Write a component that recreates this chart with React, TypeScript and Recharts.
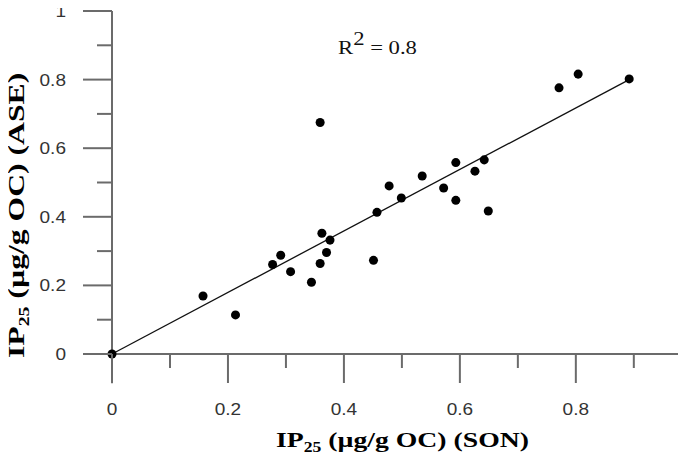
import { ScatterChart, Scatter, XAxis, YAxis, ReferenceLine } from "recharts";

// IP25 concentrations (µg/g OC) per station, SON vs ASE
const sonValues = [
  0, 0.157, 0.213, 0.277, 0.291, 0.308, 0.344, 0.359, 0.362, 0.359, 0.37, 0.376,
  0.451, 0.457, 0.478, 0.499, 0.535, 0.572, 0.593, 0.593, 0.626, 0.642, 0.649,
  0.771, 0.804, 0.892,
];
const aseValues = [
  0, 0.169, 0.114, 0.261, 0.288, 0.24, 0.209, 0.264, 0.352, 0.675, 0.296, 0.332,
  0.273, 0.413, 0.49, 0.455, 0.519, 0.484, 0.558, 0.448, 0.533, 0.566, 0.417,
  0.776, 0.816, 0.802,
];

// linear fit through the origin
const fitX = [0, 0.892];
const fitY = [0, 0.8];
const rSquared = "0.8";

const xTicks = [0, 0.1, 0.2, 0.3, 0.4, 0.5, 0.6, 0.7, 0.8, 0.9];
const yTicks = [0, 0.1, 0.2, 0.3, 0.4, 0.5, 0.6, 0.7, 0.8, 0.9, 1];

const points = sonValues.map((son, i) => ({ son, ase: aseValues[i] }));

const AXIS = "#6b6b6b";
const SANS = "'Liberation Sans', Arial, sans-serif";
const SERIF = "'Liberation Serif', 'Times New Roman', serif";

const isMajor = (v: number) => Math.abs(v * 5 - Math.round(v * 5)) < 1e-6;
const fmt = (v: number) => String(Math.round(v * 10) / 10);

function XTick({ x, y, payload }: any) {
  const major = isMajor(payload.value);
  return (
    <g>
      <line x1={x} x2={x} y1={y} y2={y + (major ? 29 : 14)} stroke={AXIS} strokeWidth={2} />
      {major && (
        <text
          transform={`translate(${x},${y + 61}) scale(1.12,1)`}
          textAnchor="middle"
          fontFamily={SANS}
          fontSize={17}
          fill="#333"
        >
          {fmt(payload.value)}
        </text>
      )}
    </g>
  );
}

function YTick({ x, y, payload }: any) {
  const major = isMajor(payload.value);
  return (
    <g>
      <line x1={x - (major ? 29 : 15)} x2={x} y1={y} y2={y} stroke={AXIS} strokeWidth={2} />
      {major && (
        <text
          transform={`translate(${x - 46},${y + 6}) scale(1.12,1)`}
          textAnchor="end"
          fontFamily={SANS}
          fontSize={17}
          fill="#333"
        >
          {fmt(payload.value)}
        </text>
      )}
    </g>
  );
}

export default function App() {
  return (
    <div style={{ position: "relative", width: 686, height: 466, margin: -8, background: "#fff" }}>
      <ScatterChart width={686} height={466} margin={{ top: 11, right: 0, bottom: 111, left: 111 }}>
        <XAxis
          type="number"
          dataKey="son"
          domain={[0, 0.99]}
          ticks={xTicks}
          interval={0}
          tick={(props: any) => <XTick {...props} />}
          tickLine={false}
          axisLine={false}
          tickSize={0}
          tickMargin={0}
          height={1}
        />
        <YAxis
          type="number"
          dataKey="ase"
          domain={[0, 1]}
          ticks={yTicks}
          interval={0}
          tick={(props: any) => <YTick {...props} />}
          tickLine={false}
          axisLine={false}
          tickSize={0}
          tickMargin={0}
          width={1}
        />
        {/* axes cross at the origin and overshoot a little */}
        <ReferenceLine
          segment={[{ x: -0.05, y: 0 }, { x: 0.99, y: 0 }]}
          stroke={AXIS}
          strokeWidth={2}
          ifOverflow="visible"
        />
        <ReferenceLine
          segment={[{ x: 0, y: -0.085 }, { x: 0, y: 1 }]}
          stroke={AXIS}
          strokeWidth={2}
          ifOverflow="visible"
        />
        <ReferenceLine
          segment={[{ x: fitX[0], y: fitY[0] }, { x: fitX[1], y: fitY[1] }]}
          stroke="#111"
          strokeWidth={1.3}
          ifOverflow="visible"
        />
        <Scatter data={points} fill="#000" isAnimationActive={false} />
      </ScatterChart>
      <svg
        width={686}
        height={466}
        style={{ position: "absolute", left: 0, top: 0, pointerEvents: "none" }}
      >
        <text transform="translate(338,54) scale(1.26,1)" fontFamily={SERIF} fontSize={18} fill="#111">
          R<tspan dy={-9}>2</tspan>
          <tspan dy={9}> = {rSquared}</tspan>
        </text>
        <text
          transform="translate(276,447) scale(1.26,1)"
          fontFamily={SERIF}
          fontWeight="bold"
          fontSize={22}
          fill="#000"
        >
          IP<tspan dy={5} fontSize={14}>25</tspan>
          <tspan dy={-5}> (µg/g OC) (SON)</tspan>
        </text>
        <text
          transform="translate(24,358) rotate(-90) scale(1.32,1)"
          fontFamily={SERIF}
          fontWeight="bold"
          fontSize={24}
          fill="#000"
        >
          IP<tspan dy={5} fontSize={15}>25</tspan>
          <tspan dy={-5}> (µg/g OC) (ASE)</tspan>
        </text>
      </svg>
    </div>
  );
}
